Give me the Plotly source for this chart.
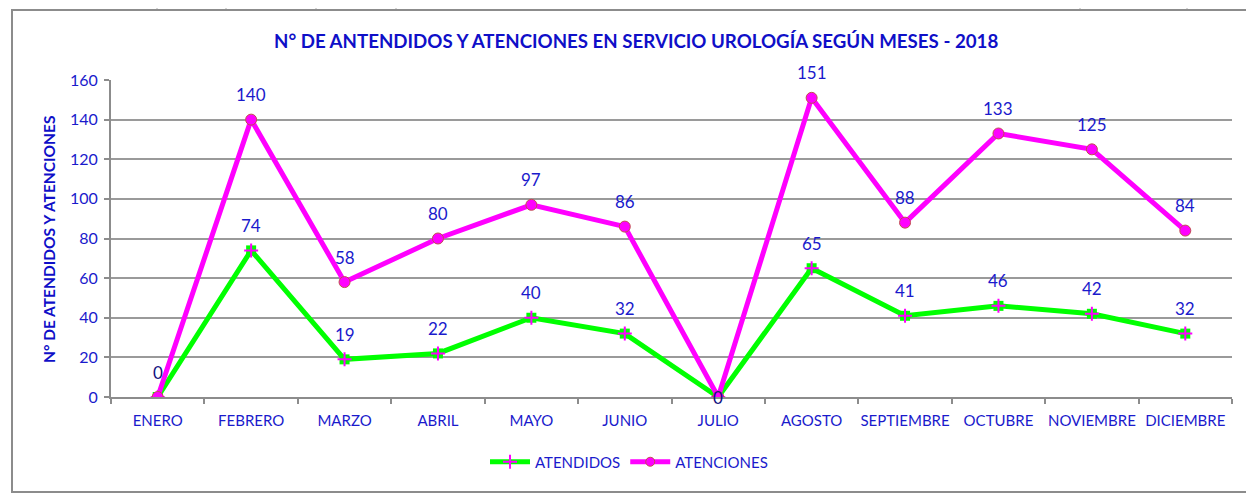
import plotly.graph_objects as go

months = ["ENERO", "FEBRERO", "MARZO", "ABRIL", "MAYO", "JUNIO", "JULIO",
          "AGOSTO", "SEPTIEMBRE", "OCTUBRE", "NOVIEMBRE", "DICIEMBRE"]
atendidos = [0, 74, 19, 22, 40, 32, 0, 65, 41, 46, 42, 32]
atenciones = [0, 140, 58, 80, 97, 86, 0, 151, 88, 133, 125, 84]

# page body has an 8px margin; figure coordinates = reference pixels - 8
OFF = 8
W, H = 1238, 486
L, T = 111 - OFF, 80 - OFF
R = W - (1232 - OFF)
B = H - (397 - OFF)
PW, PH = W - L - R, H - T - B

def px(x):
    return (x - OFF - L) / PW

def py(y):
    return (H - B - (y - OFF)) / PH

BLUE = "#1A1ACC"
FONT = "Lato"

fig = go.Figure()

fig.add_trace(go.Scatter(
    x=months, y=atendidos, name="ATENDIDOS", mode="lines+markers",
    line=dict(color="#00FF00", width=5),
    marker=dict(symbol="square", size=10, color="#00FF00"),
    showlegend=False,
))
fig.add_trace(go.Scatter(
    x=months, y=atendidos, name="ATENDIDOS", mode="markers",
    marker=dict(symbol="cross-thin", size=10, line=dict(color="#FF00FF", width=2)),
    showlegend=False,
))
fig.add_trace(go.Scatter(
    x=months, y=atenciones, name="ATENCIONES", mode="lines+markers",
    line=dict(color="#FF00FF", width=5),
    marker=dict(symbol="circle", size=11, color="#FF00FF", line=dict(color="#C0504D", width=1)),
    showlegend=False,
))
# legend proxies
fig.add_trace(go.Scatter(
    x=[None], y=[None], name="ATENDIDOS", mode="lines+markers",
    line=dict(color="#00FF00", width=5),
    marker=dict(symbol="cross-thin", size=10, color="#00FF00", line=dict(color="#FF00FF", width=2)),
))
fig.add_trace(go.Scatter(
    x=[None], y=[None], name="ATENCIONES", mode="lines+markers",
    line=dict(color="#FF00FF", width=5),
    marker=dict(symbol="circle", size=9, color="#FF00FF", line=dict(color="#C0504D", width=1)),
))

annotations = []
for i, m in enumerate(months):
    for series, other in ((atendidos, None), (atenciones, atendidos)):
        v = series[i]
        if other is not None and other[i] == v:
            continue  # identical label at the same spot already drawn
        shift = 0 if (m == "JULIO" and v == 0) else 25
        annotations.append(dict(
            x=m, y=v, text=str(v), showarrow=False, yshift=shift,
            font=dict(family=FONT, size=17, color=BLUE if v else "#101080"),
        ))

annotations.append(dict(
    x=px(636), y=py(41), xref="paper", yref="paper", showarrow=False,
    text="<b>N° DE ANTENDIDOS Y ATENCIONES EN SERVICIO UROLOGÍA SEGÚN MESES - 2018</b>",
    font=dict(family=FONT, size=18.7, color="#0F0FC8"), xanchor="center", yanchor="middle",
))
annotations.append(dict(
    x=px(49), y=py(240), xref="paper", yref="paper", showarrow=False, textangle=-90,
    text="<b>N° DE ATENDIDOS Y ATENCIONES</b>",
    font=dict(family=FONT, size=15.5, color="#0F0FC8"), xanchor="center", yanchor="middle",
))

shapes = [
    dict(type="rect", xref="paper", yref="paper",
         x0=px(12), x1=px(1262), y0=py(492), y1=py(10),
         line=dict(color="#8C8C8C", width=2), layer="below"),
]
for xv in [157, 226, 316, 396, 1080, 1187]:
    shapes.append(dict(type="line", xref="paper", yref="paper",
                       x0=px(xv), x1=px(xv), y0=py(9), y1=py(OFF),
                       line=dict(color="#B0B0B0", width=1)))

fig.update_layout(
    width=W, height=H,
    margin=dict(l=L, r=R, t=T, b=B, autoexpand=False),
    paper_bgcolor="white", plot_bgcolor="white",
    font=dict(family=FONT, color=BLUE, size=15),
    annotations=annotations, shapes=shapes,
    legend=dict(orientation="h", x=px(629), xanchor="center",
                y=py(462), yanchor="middle", font=dict(family=FONT, size=15, color=BLUE),
                itemwidth=40, bgcolor="rgba(0,0,0,0)"),
    xaxis=dict(
        type="category", showgrid=False, showline=True, linecolor="#8C8C8C", linewidth=2,
        ticks="outside", tickson="boundaries", ticklen=5, tickcolor="#8C8C8C", tickwidth=2,
        tickfont=dict(family=FONT, size=15, color=BLUE), range=[-0.5, 11.5],
        tickangle=0, automargin=False, ticklabelstandoff=9,
    ),
    yaxis=dict(
        range=[0, 160], dtick=20, showgrid=True, gridcolor="#9A9A9A", gridwidth=1.5,
        showline=True, linecolor="#8C8C8C", linewidth=2, ticks="outside", ticklen=5,
        tickcolor="#8C8C8C", tickwidth=2, zeroline=False, automargin=False,
        tickfont=dict(family=FONT, size=16, color=BLUE), ticklabelstandoff=3,
    ),
)

fig.write_html("out.html")
